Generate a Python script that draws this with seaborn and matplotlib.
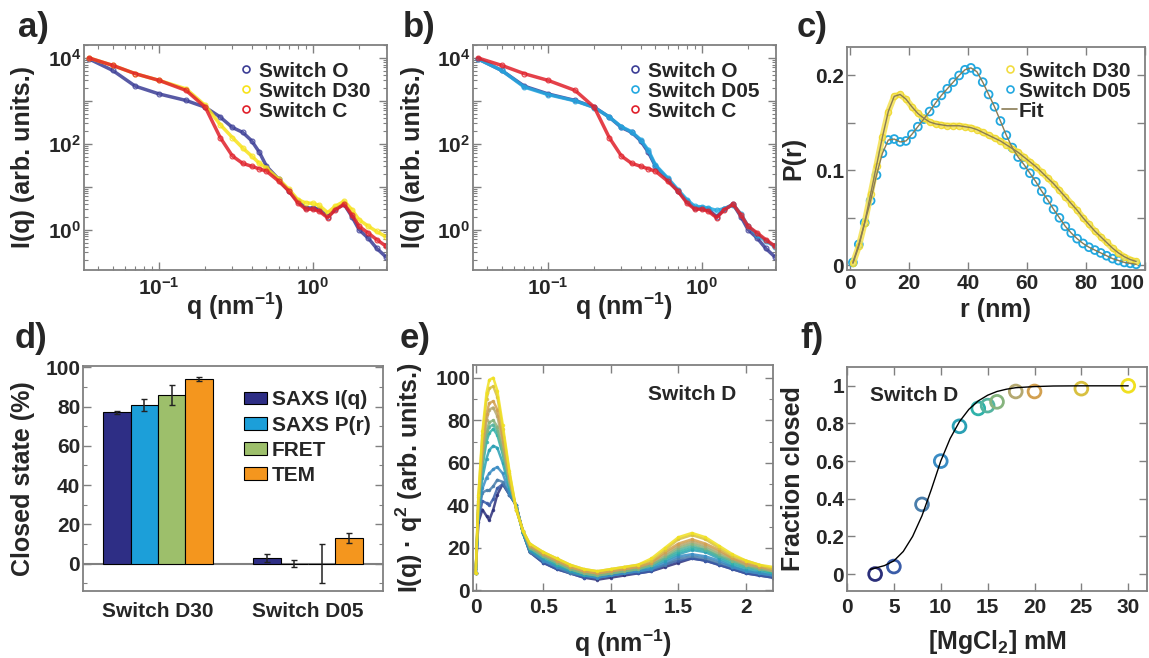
import matplotlib
matplotlib.use('Agg')
from matplotlib import pyplot as plt
from matplotlib.lines import Line2D
from matplotlib.ticker import LogLocator, FuncFormatter, MultipleLocator, NullFormatter
import numpy as np
import pandas as pd
import seaborn as sns


##############################################################
# data
##############################################################
# a) / b) SAXS intensity curves
q_saxs = [0.035, 0.05, 0.07, 0.1, 0.15, 0.2, 0.25, 0.3, 0.35, 0.4, 0.45, 0.5, 0.6,
          0.7, 0.8, 0.9, 1.0, 1.1, 1.25, 1.4, 1.6, 1.8, 2.0, 2.3, 2.6, 3.0]
iq_switch_o = [9500, 5100, 2200, 1450, 1020, 710, 420, 240, 185, 118, 63, 30, 15,
               7.9, 4.6, 3.2, 3.2, 3.0, 2.0, 3.0, 3.9, 2.0, 1.0, 0.63, 0.37, 0.23]
iq_switch_d30 = [10000, 6700, 4300, 3000, 1900, 780, 280, 140, 80, 52, 35, 27, 15,
                 8.7, 5.0, 4.2, 4.1, 3.7, 2.5, 3.5, 4.6, 2.9, 1.7, 1.2, 0.91, 0.68]
iq_switch_c = [10000, 6700, 4300, 3000, 1750, 710, 140, 52, 35, 30, 26, 23, 13.5,
               7.9, 4.2, 3.0, 3.0, 2.7, 1.9, 2.9, 3.9, 2.2, 1.2, 0.83, 0.59, 0.41]
iq_switch_d05 = [9500, 5100, 2100, 1400, 1000, 700, 420, 250, 190, 125, 70, 32, 16,
                 8.5, 5.0, 3.5, 3.4, 3.2, 2.8, 3.1, 3.8, 2.3, 1.2, 0.76, 0.55, 0.40]

# c) pair distance distributions
r_nm = [1, 3, 5, 7, 9, 11, 13, 15, 17, 19, 21, 23, 25, 27, 29, 31, 33, 35, 37, 39,
        41, 43, 45, 47, 49, 51, 53, 55, 57, 59, 61, 63, 65, 67, 69, 71, 73, 75, 77,
        79, 81, 83, 85, 87, 89, 91, 93, 95, 97]
pr_d30 = [0.002, 0.02, 0.045, 0.075, 0.105, 0.135, 0.162, 0.178, 0.180, 0.175, 0.167,
          0.160, 0.155, 0.151, 0.149, 0.148, 0.147, 0.147, 0.147, 0.146, 0.145, 0.143,
          0.140, 0.137, 0.134, 0.131, 0.127, 0.123, 0.119, 0.114, 0.109, 0.104, 0.098,
          0.092, 0.086, 0.079, 0.072, 0.065, 0.058, 0.050, 0.043, 0.036, 0.030, 0.024,
          0.018, 0.013, 0.009, 0.006, 0.004]
pr_d05 = [0.003, 0.022, 0.045, 0.068, 0.095, 0.118, 0.132, 0.133, 0.130, 0.131, 0.138,
          0.146, 0.154, 0.162, 0.171, 0.179, 0.186, 0.193, 0.200, 0.206, 0.208, 0.204,
          0.193, 0.180, 0.167, 0.152, 0.137, 0.124, 0.114, 0.106, 0.097, 0.088, 0.078,
          0.069, 0.059, 0.050, 0.041, 0.034, 0.028, 0.023, 0.019, 0.016, 0.013, 0.010,
          0.007, 0.005, 0.003, 0.002, 0.001]

# d) closed state fractions
switches = ['Switch D30', 'Switch D05']
methods = ['SAXS I(q)', 'SAXS P(r)', 'FRET', 'TEM']
closed_d30 = [77, 81, 86, 94]
closed_d30_err = [1, 3, 5, 1]
closed_d05 = [3, 0, 0, 13]
closed_d05_err = [2, 2, 10, 2.5]

# e) Kratky-like curves for the MgCl2 series
q_e = [0.0, 0.02, 0.05, 0.08, 0.1, 0.13, 0.16, 0.2, 0.25, 0.3, 0.35, 0.4, 0.5, 0.6, 0.7,
       0.8, 0.9, 1.0, 1.1, 1.2, 1.3, 1.4, 1.5, 1.6, 1.7, 1.8, 1.9, 2.0, 2.1, 2.2]
iq2_mg03 = [8, 32, 38, 35, 33, 38, 45, 50, 45, 40, 27, 18, 13, 10, 8, 6, 5, 6, 7, 8, 9, 11, 13, 15, 14, 12, 10, 8, 7, 6]
iq2_mg05 = [8, 34, 42, 41, 40, 43, 48, 50, 45, 40, 27, 18, 13, 10, 8, 6, 6, 7, 8, 8, 9, 12, 14, 15, 14, 12, 10, 8, 7, 6]
iq2_mg08 = [8, 36, 46, 47, 47, 49, 52, 51, 45, 40, 27, 18, 14, 11, 8, 7, 6, 7, 8, 9, 10, 12, 15, 16, 15, 13, 11, 9, 8, 7]
iq2_mg10 = [8, 37, 48, 53, 55, 57, 58, 55, 46, 40, 27, 19, 14, 11, 9, 7, 6, 7, 8, 9, 10, 13, 16, 17, 16, 14, 11, 9, 8, 7]
iq2_mg12 = [8, 38, 53, 62, 66, 68, 67, 60, 48, 39, 27, 19, 15, 12, 9, 7, 7, 8, 9, 10, 11, 14, 17, 19, 18, 15, 12, 10, 9, 8]
iq2_mg14 = [8, 39, 58, 70, 74, 76, 73, 64, 49, 39, 27, 20, 16, 12, 10, 8, 7, 8, 9, 10, 12, 15, 18, 20, 19, 16, 13, 11, 10, 8]
iq2_mg15 = [8, 40, 60, 73, 77, 78, 75, 65, 50, 39, 28, 20, 16, 13, 10, 8, 7, 8, 9, 10, 12, 15, 19, 21, 19, 16, 14, 11, 10, 9]
iq2_mg16 = [8, 40, 62, 75, 79, 80, 77, 66, 51, 39, 28, 20, 16, 13, 10, 8, 7, 8, 9, 10, 12, 16, 20, 22, 20, 17, 14, 12, 10, 9]
iq2_mg18 = [8, 41, 66, 80, 85, 86, 82, 70, 52, 38, 28, 21, 17, 14, 11, 9, 8, 9, 10, 11, 13, 17, 21, 23, 21, 18, 15, 12, 11, 9]
iq2_mg20 = [8, 42, 68, 83, 88, 89, 85, 72, 53, 38, 28, 21, 17, 14, 11, 9, 8, 9, 10, 11, 13, 18, 22, 24, 22, 19, 15, 13, 11, 10]
iq2_mg25 = [8, 44, 73, 90, 95, 96, 91, 76, 55, 38, 28, 22, 18, 15, 12, 10, 9, 10, 11, 12, 14, 19, 24, 26, 24, 20, 16, 14, 12, 10]
iq2_mg30 = [8, 45, 75, 93, 99, 100, 94, 78, 56, 38, 28, 22, 18, 15, 12, 10, 9, 10, 11, 12, 15, 20, 25, 27, 25, 21, 17, 14, 12, 11]

# f) fraction closed vs MgCl2
mgcl2_mm = [3, 5, 8, 10, 12, 14, 15, 16, 18, 20, 25, 30]
fraction_closed = [0.0, 0.04, 0.37, 0.60, 0.785, 0.88, 0.895, 0.915, 0.97, 0.97, 0.985, 1.0]
fit_mg = [2.5, 4, 5, 6, 7, 8, 9, 10, 11, 12, 13, 14, 15, 16, 17, 18, 20, 22, 25, 30]
fit_frac = [0.025, 0.045, 0.07, 0.12, 0.2, 0.31, 0.45, 0.6, 0.72, 0.81, 0.875, 0.92,
            0.95, 0.97, 0.982, 0.99, 0.996, 0.999, 1.0, 1.0]
mg_colors = ['#2b2f7a', '#3a5ca8', '#4a7eac', '#3a8cc4', '#2aa0b4', '#30b2aa',
             '#55b4a0', '#86b47e', '#b4a870', '#d2a050', '#d8c040', '#f0e020']

col_o, col_d30, col_c, col_d05 = '#3b3d96', '#f7e21a', '#e0202a', '#22a8e0'
bar_colors = ['#2e2e85', '#1c9fd9', '#9dbf6b', '#f4961e']
frame_col = '#808080'


##############################################################
# style
##############################################################
sns.set_theme(style='ticks')
plt.rcParams['font.family'] = ['Liberation Sans', 'DejaVu Sans']
plt.rcParams.update({
    'font.weight': 'bold',
    'axes.labelweight': 'bold',
    'mathtext.fontset': 'custom',
    'mathtext.rm': 'Liberation Sans:bold',
    'mathtext.it': 'Liberation Sans:bold',
    'mathtext.bf': 'Liberation Sans:bold',
    'mathtext.default': 'rm',
    'xtick.labelsize': 15,
    'ytick.labelsize': 15,
    'axes.labelsize': 18,
})

W, H = 1149, 658


def px_axes(fig, left, top, right, bottom):
    return fig.add_axes([left / W, 1 - bottom / H, (right - left) / W, (bottom - top) / H])


def style_ax(ax, bottom_ticks=True):
    for s in ax.spines.values():
        s.set_color(frame_col)
        s.set_linewidth(1.3)
    ax.tick_params(which='both', direction='in', top=True, right=True, color=frame_col)
    ax.tick_params(axis='x', pad=5)
    ax.tick_params(axis='y', pad=2)
    ax.tick_params(which='major', length=6, width=1)
    ax.tick_params(which='minor', length=3, width=0.8)
    if not bottom_ticks:
        ax.tick_params(axis='x', which='both', bottom=False, top=False)


def log_label(v, pos, keep):
    e = int(round(np.log10(v)))
    return r'$10^{%d}$' % e if e in keep else ''


def saxs_panel(ax, series, labels, ylab_x):
    for vals, color in series:
        sns.lineplot(x=q_saxs, y=vals, color=color, lw=2.5, alpha=0.85, marker='o', ms=3.5,
                     mfc='none', mec=color, mew=0.8, ax=ax)
    ax.set_xscale('log')
    ax.set_yscale('log')
    ax.set_xlim(0.0325, 3.04)
    ax.set_ylim(0.115, 20000)
    ax.xaxis.set_major_locator(LogLocator(base=10, numticks=10))
    ax.xaxis.set_minor_locator(LogLocator(base=10, subs=np.arange(2, 10), numticks=20))
    ax.yaxis.set_major_locator(LogLocator(base=10, numticks=10))
    ax.yaxis.set_minor_locator(LogLocator(base=10, subs=np.arange(2, 10), numticks=20))
    ax.xaxis.set_major_formatter(FuncFormatter(lambda v, p: log_label(v, p, (-1, 0))))
    ax.yaxis.set_major_formatter(FuncFormatter(lambda v, p: log_label(v, p, (0, 2, 4))))
    ax.xaxis.set_minor_formatter(NullFormatter())
    ax.yaxis.set_minor_formatter(NullFormatter())
    style_ax(ax)
    ax.set_xlabel('q (nm$^{-1}$)')
    ax.set_ylabel('I(q) (arb. units.)')
    ax.xaxis.set_label_coords(0.5, -0.09)
    ax.yaxis.set_label_coords(ylab_x, 0.5)
    handles = [Line2D([], [], ls='none', marker='o', mfc='none', mec=c, ms=5, mew=1.2)
               for _, c in series]
    ax.legend(handles, labels, loc='upper right', frameon=False, fontsize=15,
              handletextpad=0.1, labelspacing=0.05, borderaxespad=0.4, handlelength=1.0)


fig = plt.figure(figsize=(W / 100, H / 100), dpi=100)

# a)
ax_a = px_axes(fig, 84, 45, 387, 270)
saxs_panel(ax_a, [(iq_switch_o, col_o), (iq_switch_d30, col_d30), (iq_switch_c, col_c)],
           ['Switch O', 'Switch D30', 'Switch C'], -0.162)

# b)
ax_b = px_axes(fig, 473, 45, 776, 270)
saxs_panel(ax_b, [(iq_switch_o, col_o), (iq_switch_d05, col_d05), (iq_switch_c, col_c)],
           ['Switch O', 'Switch D05', 'Switch C'], -0.158)

# c)
ax_c = px_axes(fig, 847, 47, 1145, 270)
sns.lineplot(x=r_nm, y=pr_d30, color='#f5e35a', lw=4.5, alpha=0.9, marker='o', ms=4.5,
             mfc='none', mec='#efd82a', mew=0.9, ax=ax_c)
sns.lineplot(x=r_nm, y=pr_d30, color='#8a7c55', lw=1.0, ax=ax_c)
sns.lineplot(x=r_nm, y=pr_d05, color='#8a7c55', lw=1.0, ax=ax_c)
sns.scatterplot(x=r_nm, y=pr_d05, s=32, facecolors='none', edgecolors=col_d05,
                linewidths=1.3, marker='o', ax=ax_c)
ax_c.set_xlim(-1, 100)
ax_c.set_ylim(-0.005, 0.23)
ax_c.set_xticks([0, 20, 40, 60, 80, 100])
ax_c.set_yticks([0, 0.05, 0.1, 0.15, 0.2])
ax_c.set_yticklabels(['0', '', '0.1', '', '0.2'])
style_ax(ax_c)
ax_c.tick_params(axis='x', pad=3)
ax_c.get_xticklabels()[-1].set_horizontalalignment('right')
ax_c.set_xlabel('r (nm)')
ax_c.set_ylabel('P(r)')
ax_c.xaxis.set_label_coords(0.5, -0.125)
ax_c.yaxis.set_label_coords(-0.141, 0.5)
c_handles = [Line2D([], [], ls='none', marker='o', mfc='none', mec='#f2dc40', ms=5, mew=1.2),
             Line2D([], [], ls='none', marker='o', mfc='none', mec=col_d05, ms=5, mew=1.2),
             Line2D([], [], color='#8a7c55', lw=1.2)]
ax_c.legend(c_handles, ['Switch D30', 'Switch D05', 'Fit'], loc='upper right', frameon=False,
            fontsize=15, handletextpad=0.1, labelspacing=0.05, borderaxespad=0.3,
            handlelength=0.7)

# d)
ax_d = px_axes(fig, 83, 366, 383, 591)
bars = pd.DataFrame({
    'switch': [switches[0]] * 4 + [switches[1]] * 4,
    'method': methods * 2,
    'closed': closed_d30 + closed_d05,
    'err': closed_d30_err + closed_d05_err,
})
ax_d.axhline(0, color=frame_col, lw=1.5, zorder=0)
sns.barplot(data=bars, x='switch', y='closed', hue='method', palette=bar_colors,
            width=0.73, edgecolor='black', linewidth=0.8, errorbar=None, saturation=1,
            ax=ax_d)
bar_groups = list(ax_d.containers)
for k, cont in enumerate(bar_groups):
    xs = [b.get_x() + b.get_width() / 2 for b in cont.patches]
    sub = bars[bars['method'] == methods[k]]
    ax_d.errorbar(xs, sub['closed'], yerr=sub['err'], fmt='none', ecolor='#222222',
                  elinewidth=1.1, capsize=2, capthick=1)
ax_d.set_xlim(-0.5, 1.5)
ax_d.set_ylim(-14, 100.7)
ax_d.yaxis.set_major_locator(MultipleLocator(20))
ax_d.yaxis.set_minor_locator(MultipleLocator(10))
style_ax(ax_d, bottom_ticks=False)
ax_d.set_xlabel('')
ax_d.set_ylabel('Closed state (%)')
ax_d.yaxis.set_label_coords(-0.16, 0.5)
ax_d.tick_params(axis='x', pad=8)
ax_d.legend(loc='upper right', frameon=False, fontsize=15, handlelength=1.1,
            handleheight=0.55, handletextpad=0.2, labelspacing=0.3,
            bbox_to_anchor=(1.02, 0.975))

# e)
ax_e = px_axes(fig, 473, 365, 773, 591)
e_curves = [iq2_mg03, iq2_mg05, iq2_mg08, iq2_mg10, iq2_mg12, iq2_mg14, iq2_mg15,
            iq2_mg16, iq2_mg18, iq2_mg20, iq2_mg25, iq2_mg30]
for vals, color in zip(e_curves, mg_colors):
    sns.lineplot(x=q_e, y=vals, color=color, lw=1.8, alpha=0.85, marker='o', ms=2.5,
                 mfc=color, mec=color, mew=0, ax=ax_e)
ax_e.set_xlim(-0.02, 2.2)
ax_e.set_ylim(-0.3, 106)
ax_e.xaxis.set_major_locator(MultipleLocator(0.5))
ax_e.xaxis.set_major_formatter(FuncFormatter(lambda v, p: '%g' % v))
ax_e.yaxis.set_major_locator(MultipleLocator(20))
ax_e.yaxis.set_minor_locator(MultipleLocator(10))
style_ax(ax_e)
ax_e.tick_params(axis='x', which='minor', length=0)
ax_e.set_xlabel('q (nm$^{-1}$)')
ax_e.set_ylabel('I(q) · q$^{2}$ (arb. units.)')
ax_e.xaxis.set_label_coords(0.5, -0.16)
ax_e.yaxis.set_label_coords(-0.16, 0.5)
ax_e.text(1.275, 92, 'Switch D', fontsize=15, fontweight='bold', va='center', ha='left')

# f)
ax_f = px_axes(fig, 847, 367, 1147, 591)
sns.lineplot(x=fit_mg, y=fit_frac, color='black', lw=1.0, ax=ax_f)
sns.scatterplot(x=mgcl2_mm, y=fraction_closed, s=85, marker='o', facecolors='none',
                edgecolors=mg_colors, linewidths=2.0, legend=False, ax=ax_f)
ax_f.set_xlim(0, 32)
ax_f.set_ylim(-0.09, 1.1)
ax_f.xaxis.set_major_locator(MultipleLocator(5))
ax_f.set_yticks([0, 0.2, 0.4, 0.6, 0.8, 1.0])
ax_f.yaxis.set_major_formatter(FuncFormatter(lambda v, p: '%g' % v))
style_ax(ax_f)
ax_f.set_xlabel('[MgCl$_{2}$] mM')
ax_f.set_ylabel('Fraction closed')
ax_f.xaxis.set_label_coords(0.5, -0.165)
ax_f.yaxis.set_label_coords(-0.14, 0.5)
ax_f.text(2.45, 0.95, 'Switch D', fontsize=15, fontweight='bold', va='center', ha='left')

# panel letters
for letter, x, y in [('a)', 18, 28), ('b)', 403, 28), ('c)', 797, 28),
                     ('d)', 15, 338), ('e)', 400, 338), ('f)', 800, 338)]:
    fig.text(x / W, 1 - y / H, letter, fontsize=25, fontweight='bold', ha='left', va='center')

fig.savefig('out.png', dpi=100)
